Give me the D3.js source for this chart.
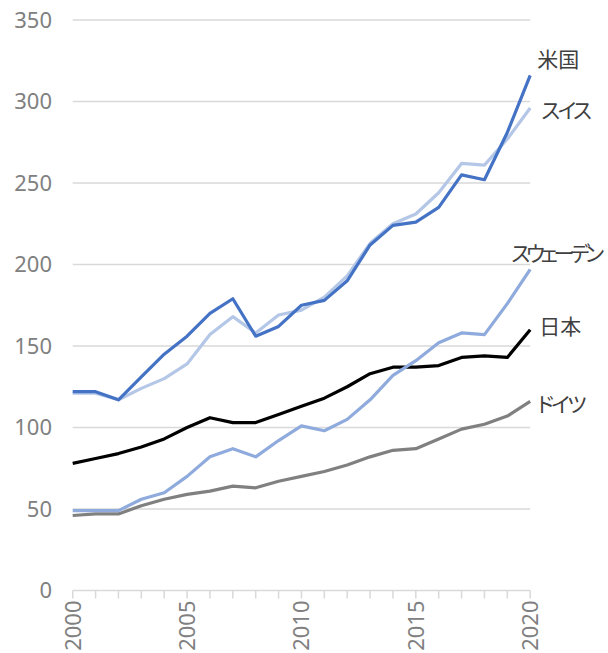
<!DOCTYPE html>
<html>
<head>
<meta charset="utf-8">
<script src="https://cdn.jsdelivr.net/npm/d3@7"></script>
<style>
  body { margin: 0; background: #fff; }
  svg { display: block; }
  .num { font-family: "Noto Sans", "Open Sans", sans-serif; font-size: 22px; fill: #808080; }
  .lab { font-family: "Noto Sans CJK JP", sans-serif; font-size: 21px; fill: #404040; font-feature-settings: "palt"; }
</style>
</head>
<body>
<div id="chart"></div>
<script>
// data
var years = d3.range(2000, 2021);
var yTicks = [0, 50, 100, 150, 200, 250, 300, 350];
var xTickLabels = [2000, 2005, 2010, 2015, 2020];

var names = ["ドイツ", "日本", "スウェーデン", "スイス", "米国"];
var germany = [46, 47, 47, 52, 56, 59, 61, 64, 63, 67, 70, 73, 77, 82, 86, 87, 93, 99, 102, 107, 116];
var japan = [78, 81, 84, 88, 93, 100, 106, 103, 103, 108, 113, 118, 125, 133, 137, 137, 138, 143, 144, 143, 160];
var sweden = [49, 49, 49, 56, 60, 70, 82, 87, 82, 92, 101, 98, 105, 117, 132, 141, 152, 158, 157, 176, 197];
var swiss = [121, 121, 117, 124, 130, 139, 157, 168, 158, 169, 172, 180, 193, 213, 225, 231, 244, 262, 261, 277, 296];
var us = [122, 122, 117, 131, 145, 156, 170, 179, 156, 162, 175, 178, 190, 212, 224, 226, 235, 255, 252, 281, 316];

var series = [germany, japan, sweden, swiss, us];
var colors = ["#808080", "#000000", "#8faadc", "#b4c7e7", "#4472c4"];
// label offsets from the last point (dx, dy, letter-spacing)
var labelPos = [[7, 3, -2.6], [9, -3, 0], [-19, -16, -4.2], [11, 2, -2.4], [7, -16, 0]];

var w = 608, h = 653;
var svg = d3.select("#chart").append("svg")
    .attr("width", w)
    .attr("height", h);

var x = d3.scaleLinear().domain([2000, 2020]).range([72.7, 530.2]);
var y = d3.scaleLinear().domain([0, 350]).range([590.5, 20]);

// gridlines
svg.append("g").selectAll("line")
    .data(yTicks)
    .enter().append("line")
    .attr("x1", x(2000)).attr("x2", x(2020))
    .attr("y1", function(d) { return y(d); })
    .attr("y2", function(d) { return y(d); })
    .attr("stroke", "#d9d9d9")
    .attr("stroke-width", 1.5);

// y labels
svg.append("g").selectAll("text")
    .data(yTicks)
    .enter().append("text")
    .attr("class", "num")
    .attr("x", 52)
    .attr("y", function(d) { return y(d); })
    .attr("dy", "0.36em")
    .attr("text-anchor", "end")
    .text(function(d) { return d; });

// x axis ticks
svg.append("g").selectAll("line")
    .data(years)
    .enter().append("line")
    .attr("x1", function(d) { return x(d); })
    .attr("x2", function(d) { return x(d); })
    .attr("y1", y(0))
    .attr("y2", y(0) + 8)
    .attr("stroke", "#d9d9d9")
    .attr("stroke-width", 1.5);

svg.append("g").selectAll("text")
    .data(xTickLabels)
    .enter().append("text")
    .attr("class", "num")
    .attr("text-anchor", "end")
    .attr("transform", function(d) {
        return "translate(" + x(d) + "," + (y(0) + 10) + ") rotate(-90)";
    })
    .attr("dy", "0.36em")
    .text(function(d) { return d; });

var line = d3.line()
    .x(function(d, i) { return x(years[i]); })
    .y(function(d) { return y(d); });

svg.append("g").selectAll("path")
    .data(series)
    .enter().append("path")
    .attr("fill", "none")
    .attr("stroke", function(d, i) { return colors[i]; })
    .attr("stroke-width", 3.2)
    .attr("stroke-linejoin", "round")
    .attr("d", line);

svg.append("g").selectAll("text")
    .data(series)
    .enter().append("text")
    .attr("class", "lab")
    .attr("x", function(d, i) { return x(2020) + labelPos[i][0]; })
    .attr("y", function(d, i) { return y(d[d.length - 1]) + labelPos[i][1]; })
    .attr("dy", "0.36em")
    .attr("letter-spacing", function(d, i) { return labelPos[i][2]; })
    .text(function(d, i) { return names[i]; });
</script>
</body>
</html>
